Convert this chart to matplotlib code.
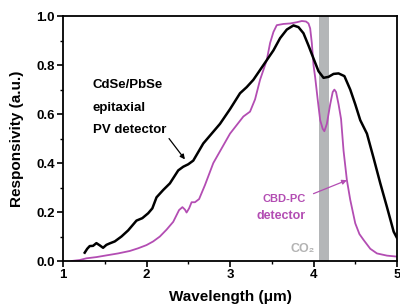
import matplotlib.pyplot as plt

plt.rcParams['font.family'] = ['Liberation Sans', 'DejaVu Sans']
plt.rcParams['font.weight'] = 'bold'

# CdSe/PbSe epitaxial PV detector (black)
pv_wl = [1.26, 1.29, 1.32, 1.36, 1.40, 1.44, 1.48, 1.52, 1.56, 1.62, 1.70, 1.78, 1.88,
         1.95, 2.02, 2.07, 2.12, 2.20, 2.28, 2.38, 2.44, 2.50, 2.56, 2.68, 2.78, 2.88,
         3.00, 3.12, 3.20, 3.28, 3.36, 3.44, 3.52, 3.60, 3.68, 3.76, 3.82, 3.88, 3.94,
         4.00, 4.06, 4.12, 4.18, 4.24, 4.30, 4.37, 4.44, 4.50, 4.56, 4.64, 4.72, 4.80,
         4.88, 4.96, 5.00]
pv_r = [0.034, 0.050, 0.061, 0.062, 0.073, 0.064, 0.054, 0.066, 0.072, 0.080, 0.100,
        0.125, 0.165, 0.175, 0.195, 0.215, 0.260, 0.290, 0.317, 0.370, 0.385, 0.395,
        0.410, 0.480, 0.520, 0.560, 0.620, 0.685, 0.710, 0.740, 0.780, 0.820, 0.860,
        0.910, 0.945, 0.962, 0.955, 0.930, 0.880, 0.827, 0.775, 0.748, 0.752, 0.764,
        0.766, 0.755, 0.700, 0.640, 0.575, 0.520, 0.420, 0.317, 0.220, 0.120, 0.094]

# CBD-PC detector (magenta)
pc_wl = [1.10, 1.20, 1.28, 1.40, 1.52, 1.66, 1.80, 1.90, 2.00, 2.08, 2.16, 2.24, 2.32,
         2.39, 2.43, 2.46, 2.48, 2.51, 2.54, 2.58, 2.63, 2.70, 2.80, 2.90, 3.00, 3.08,
         3.16, 3.24, 3.30, 3.36, 3.44, 3.48, 3.52, 3.56, 3.64, 3.72, 3.80, 3.86, 3.91,
         3.94, 3.96, 3.98, 4.00, 4.02, 4.05, 4.08, 4.11, 4.13, 4.16, 4.20, 4.23, 4.25,
         4.27, 4.30, 4.33, 4.36, 4.40, 4.44, 4.50, 4.55, 4.60, 4.68, 4.76, 4.88, 5.00]
pc_r = [0.000, 0.004, 0.011, 0.016, 0.023, 0.031, 0.041, 0.052, 0.065, 0.080, 0.100,
        0.128, 0.160, 0.208, 0.220, 0.210, 0.198, 0.215, 0.240, 0.240, 0.253, 0.310,
        0.400, 0.460, 0.520, 0.555, 0.590, 0.610, 0.660, 0.740, 0.820, 0.890, 0.935,
        0.963, 0.968, 0.970, 0.975, 0.980, 0.978, 0.970, 0.950, 0.890, 0.800, 0.750,
        0.660, 0.575, 0.540, 0.530, 0.560, 0.640, 0.690, 0.700, 0.690, 0.640, 0.580,
        0.450, 0.330, 0.250, 0.154, 0.110, 0.086, 0.050, 0.031, 0.022, 0.018]

co2_band = [4.07, 4.19]

fig = plt.figure(figsize=(4.0, 3.04), dpi=100)
ax = fig.add_axes([0.1575, 0.1414, 0.835, 0.8056])

ax.axvspan(co2_band[0], co2_band[1], color='#b4b6b8', lw=0, zorder=1)
ax.plot(pv_wl, pv_r, color='black', lw=1.8, zorder=3)
ax.plot(pc_wl, pc_r, color='#b34db3', lw=1.3, zorder=2)

ax.set_xlim(1, 5)
ax.set_ylim(0, 1.0)
ax.set_xticks([1, 2, 3, 4, 5])
ax.set_xticks([1.5, 2.5, 3.5, 4.5], minor=True)
ax.set_yticks([0.0, 0.2, 0.4, 0.6, 0.8, 1.0])
ax.set_yticks([0.1, 0.3, 0.5, 0.7, 0.9], minor=True)
ax.set_yticklabels(['0.0', '0.2', '0.4', '0.6', '0.8', '1.0'])
ax.tick_params(which='major', direction='out', length=4, width=1.2, labelsize=9.5, pad=2)
ax.tick_params(which='minor', direction='out', length=2.5, width=1.0)
for lab in ax.get_xticklabels() + ax.get_yticklabels():
    lab.set_fontweight('bold')
for s in ax.spines.values():
    s.set_linewidth(1.3)

ax.set_xlabel('Wavelength (μm)', fontsize=11, fontweight='bold', labelpad=6)
ax.set_ylabel('Responsivity (a.u.)', fontsize=11, fontweight='bold', labelpad=9)

ax.text(1.355, 0.718, 'CdSe/PbSe', fontsize=9.5, fontweight='bold', va='center')
ax.text(1.355, 0.626, 'epitaxial', fontsize=9.5, fontweight='bold', va='center')
ax.text(1.355, 0.535, 'PV detector', fontsize=9.5, fontweight='bold', va='center')
ax.annotate('', xy=(2.46, 0.415), xytext=(2.27, 0.50),
            arrowprops=dict(arrowstyle='-|>', color='black', lw=0.9,
                            mutation_scale=7, shrinkA=0, shrinkB=0))

ax.text(3.645, 0.254, 'CBD-PC', fontsize=8, fontweight='bold', color='#b34db3',
        ha='center', va='center')
ax.text(3.61, 0.184, 'detector', fontsize=9, fontweight='bold', color='#b34db3',
        ha='center', va='center')
ax.annotate('', xy=(4.40, 0.33), xytext=(4.0, 0.275),
            arrowprops=dict(arrowstyle='-|>', color='#b34db3', lw=0.9,
                            mutation_scale=7, shrinkA=0, shrinkB=0))

ax.text(3.87, 0.048, 'CO₂', fontsize=9, fontweight='bold', color='#b3b3b3',
        ha='center', va='center')

fig.savefig('out.png', dpi=100)
